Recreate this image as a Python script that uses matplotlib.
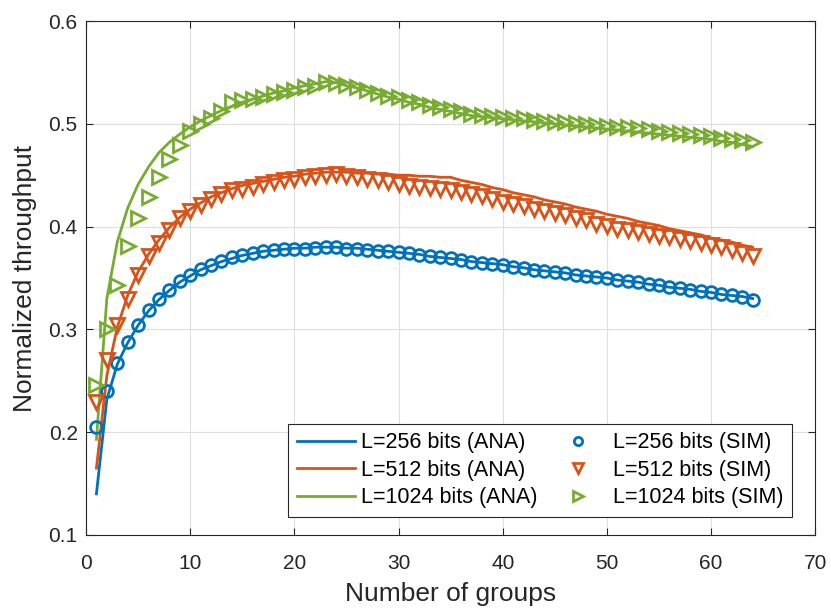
import matplotlib.pyplot as plt
import numpy as np

plt.rcParams['font.family'] = ['Liberation Sans', 'DejaVu Sans']

groups = np.arange(1, 65)

# L=256 bits
ana_256 = [0.140, 0.232, 0.266, 0.287, 0.304, 0.318, 0.329, 0.338, 0.346, 0.352,
           0.358, 0.362, 0.366, 0.369, 0.372, 0.374, 0.376, 0.377, 0.378, 0.379,
           0.379, 0.380, 0.380, 0.380, 0.379, 0.379, 0.378, 0.377, 0.376, 0.375,
           0.374, 0.373, 0.371, 0.370, 0.369, 0.368, 0.366, 0.365, 0.364, 0.363,
           0.361, 0.360, 0.358, 0.357, 0.356, 0.355, 0.353, 0.352, 0.351, 0.350,
           0.348, 0.347, 0.346, 0.344, 0.343, 0.341, 0.340, 0.339, 0.337, 0.336,
           0.334, 0.333, 0.332, 0.330]
sim_256 = [0.205, 0.240, 0.267, 0.288, 0.304, 0.319, 0.330, 0.338, 0.347, 0.353,
           0.359, 0.363, 0.367, 0.370, 0.372, 0.374, 0.376, 0.377, 0.378, 0.378,
           0.378, 0.379, 0.380, 0.380, 0.378, 0.378, 0.377, 0.376, 0.376, 0.375,
           0.374, 0.372, 0.371, 0.370, 0.369, 0.368, 0.366, 0.365, 0.364, 0.363,
           0.361, 0.360, 0.358, 0.357, 0.356, 0.355, 0.353, 0.352, 0.351, 0.350,
           0.348, 0.347, 0.346, 0.344, 0.343, 0.341, 0.340, 0.338, 0.337, 0.336,
           0.334, 0.333, 0.332, 0.329]

# L=512 bits
ana_512 = [0.165, 0.255, 0.302, 0.333, 0.356, 0.373, 0.387, 0.399, 0.409, 0.417,
           0.423, 0.429, 0.433, 0.437, 0.440, 0.442, 0.444, 0.446, 0.448, 0.449,
           0.451, 0.452, 0.453, 0.453, 0.453, 0.452, 0.452, 0.451, 0.451, 0.450,
           0.450, 0.449, 0.449, 0.448, 0.448, 0.445, 0.443, 0.441, 0.438, 0.436,
           0.433, 0.431, 0.429, 0.426, 0.424, 0.422, 0.419, 0.417, 0.415, 0.412,
           0.410, 0.408, 0.405, 0.403, 0.401, 0.398, 0.396, 0.394, 0.392, 0.389,
           0.387, 0.385, 0.382, 0.380]
sim_512 = [0.229, 0.270, 0.304, 0.330, 0.353, 0.371, 0.384, 0.397, 0.408, 0.415,
           0.421, 0.427, 0.432, 0.436, 0.437, 0.439, 0.441, 0.443, 0.445, 0.446,
           0.448, 0.449, 0.450, 0.451, 0.449, 0.448, 0.446, 0.445, 0.443, 0.441,
           0.440, 0.439, 0.438, 0.437, 0.436, 0.434, 0.432, 0.430, 0.427, 0.424,
           0.422, 0.420, 0.417, 0.415, 0.413, 0.411, 0.408, 0.406, 0.403, 0.401,
           0.398, 0.397, 0.395, 0.393, 0.391, 0.390, 0.388, 0.386, 0.384, 0.382,
           0.380, 0.377, 0.374, 0.371]

# L=1024 bits
ana_1024 = [0.193, 0.330, 0.385, 0.418, 0.441, 0.458, 0.472, 0.482, 0.490, 0.497,
            0.503, 0.508, 0.513, 0.517, 0.521, 0.524, 0.527, 0.530, 0.532, 0.535,
            0.537, 0.539, 0.541, 0.540, 0.537, 0.535, 0.532, 0.529, 0.526, 0.524,
            0.521, 0.519, 0.516, 0.514, 0.512, 0.510, 0.508, 0.507, 0.506, 0.505,
            0.504, 0.503, 0.502, 0.501, 0.500, 0.499, 0.498, 0.497, 0.496, 0.495,
            0.494, 0.493, 0.492, 0.491, 0.490, 0.489, 0.488, 0.487, 0.486, 0.485,
            0.483, 0.482, 0.480, 0.478]
sim_1024 = [0.246, 0.300, 0.343, 0.381, 0.408, 0.429, 0.448, 0.466, 0.479, 0.493,
            0.500, 0.506, 0.512, 0.521, 0.523, 0.524, 0.526, 0.529, 0.531, 0.533,
            0.536, 0.537, 0.541, 0.540, 0.538, 0.536, 0.533, 0.530, 0.527, 0.526,
            0.523, 0.521, 0.518, 0.516, 0.514, 0.512, 0.510, 0.509, 0.508, 0.507,
            0.506, 0.506, 0.504, 0.503, 0.502, 0.502, 0.501, 0.500, 0.499, 0.498,
            0.497, 0.497, 0.496, 0.495, 0.493, 0.492, 0.491, 0.490, 0.489, 0.488,
            0.486, 0.485, 0.484, 0.482]

blue, orange, green = '#0072BD', '#D95319', '#77AC30'

fig = plt.figure(figsize=(8.31, 6.10), dpi=100)
ax = fig.add_axes([0.1035, 0.123, 0.8775, 0.8425])

l1, = ax.plot(groups, ana_256, color=blue, lw=2, label='L=256 bits (ANA)')
l2, = ax.plot(groups, ana_512, color=orange, lw=2, label='L=512 bits (ANA)')
l3, = ax.plot(groups, ana_1024, color=green, lw=2, label='L=1024 bits (ANA)')
m1, = ax.plot(groups, sim_256, 'o', color=blue, mfc='none', ms=8.5, mew=2, label='L=256 bits (SIM)')
m2, = ax.plot(groups, sim_512, 'v', color=orange, mfc='none', ms=10, mew=2, label='L=512 bits (SIM)')
m3, = ax.plot(groups, sim_1024, '>', color=green, mfc='none', ms=10, mew=2, label='L=1024 bits (SIM)')

ax.set_xlim(0, 70)
ax.set_ylim(0.1, 0.6)
ax.set_xticks(np.arange(0, 71, 10))
ax.set_yticks(np.arange(0.1, 0.61, 0.1))
ax.set_yticklabels(['0.1', '0.2', '0.3', '0.4', '0.5', '0.6'])
ax.grid(True, color='#DFDFDF', lw=0.8)
ax.set_axisbelow(True)
ax.tick_params(direction='in', top=True, right=True, labelsize=15, colors='#262626', length=5)
ax.tick_params(axis='x', pad=14)
ax.tick_params(axis='y', pad=6)
for s in ax.spines.values():
    s.set_color('#262626')
    s.set_linewidth(0.8)

ax.set_xlabel('Number of groups', fontsize=19, color='#262626', labelpad=6)
ax.set_ylabel('Normalized throughput', fontsize=19, color='#262626', labelpad=8)

leg = ax.legend(handles=[l1, l2, l3, m1, m2, m3], ncol=2, loc='lower right',
                fontsize=15.5, frameon=True, fancybox=False, handlelength=2.7,
                columnspacing=0.5, handletextpad=0.3, labelspacing=0.3,
                borderpad=0.4, borderaxespad=0, markerscale=0.7,
                bbox_to_anchor=(0.9684, 0.035))
leg.get_frame().set_edgecolor('#262626')
leg.get_frame().set_linewidth(0.8)
leg.get_frame().set_alpha(1)

fig.savefig('out.png', dpi=100)
